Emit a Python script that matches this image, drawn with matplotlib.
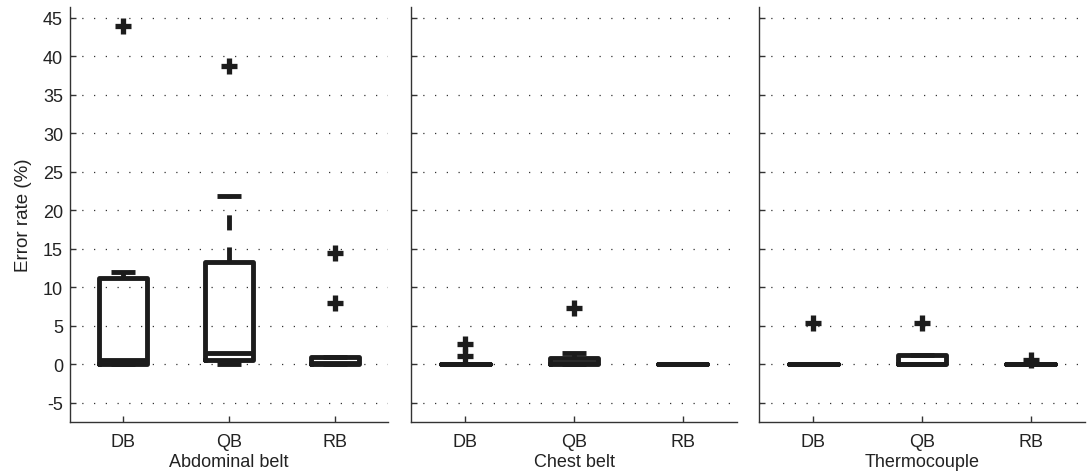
import matplotlib
matplotlib.use('Agg')
import matplotlib.pyplot as plt

sensors = ['Abdominal belt', 'Chest belt', 'Thermocouple']
methods = ['DB', 'QB', 'RB']

# statistics per sensor (rows) and method (columns), error rate in %
q1 = [[0.0, 0.6, 0.0], [0.0, 0.0, 0.0], [0.0, 0.0, 0.0]]
med = [[0.6, 1.5, 0.1], [0.0, 0.1, 0.0], [0.0, 0.0, 0.0]]
q3 = [[11.2, 13.3, 1.0], [0.0, 0.75, 0.0], [0.0, 1.25, 0.0]]
whislo = [[0.0, 0.0, 0.0], [0.0, 0.0, 0.0], [0.0, 0.0, 0.0]]
whishi = [[12.0, 21.9, 1.0], [0.0, 1.5, 0.0], [0.0, 1.25, 0.0]]
fliers = [[[43.9], [38.8], [14.5, 8.0]],
          [[2.6, 1.1], [7.3], []],
          [[5.3], [5.4], [0.5]]]

yticks = [-5, 0, 5, 10, 15, 20, 25, 30, 35, 40, 45]

plt.rcParams['font.family'] = ['Liberation Sans', 'DejaVu Sans']
plt.rcParams['font.size'] = 13
plt.rcParams['axes.unicode_minus'] = False

W, H = 1087, 477
fig = plt.figure(figsize=(W / 100, H / 100), dpi=100)
ax_px = [(70, 318), (411, 326), (759, 326)]
bottom_px, top_px = 423, 8

col = '#1c1c1c'
txt = '#222222'
lw = 3.5

for i, sensor in enumerate(sensors):
    l, w = ax_px[i]
    ax = fig.add_axes([l / W, (H - bottom_px) / H, w / W, (bottom_px - top_px) / H])
    stats = []
    for j, m in enumerate(methods):
        stats.append(dict(q1=q1[i][j], med=med[i][j], q3=q3[i][j],
                          whislo=whislo[i][j], whishi=whishi[i][j],
                          fliers=fliers[i][j], label=m))
    ax.bxp(stats, positions=[1, 2, 3], widths=0.45, capwidths=0.22,
           showfliers=True,
           boxprops=dict(color=col, linewidth=lw, solid_joinstyle='round', solid_capstyle='round'),
           medianprops=dict(color=col, linewidth=lw, solid_capstyle='butt'),
           whiskerprops=dict(color=col, linewidth=lw, linestyle=(0, (3.1, 3.5)), dash_capstyle='butt'),
           capprops=dict(color=col, linewidth=lw, solid_capstyle='butt'),
           flierprops=dict(marker='+', markersize=12, markeredgewidth=3.8,
                           markeredgecolor=col, linestyle='none'))
    ax.set_xlim(0.5, 3.5)
    ax.set_ylim(-7.5, 46.4)
    ax.set_yticks(yticks)
    ax.set_xticks([1, 2, 3])
    ax.set_xticklabels(methods)
    ax.yaxis.grid(True, color='#333333', linewidth=0.9, linestyle=(0, (1, 8.4)))
    ax.xaxis.grid(False)
    ax.set_axisbelow(True)
    for s in ['top', 'right']:
        ax.spines[s].set_visible(False)
    for s in ['left', 'bottom']:
        ax.spines[s].set_color('#333333')
        ax.spines[s].set_linewidth(1.0)
    ax.tick_params(direction='in', length=4, width=1.0, colors='#333333',
                   labelcolor=txt, labelsize=13)
    ax.tick_params(axis='x', pad=8)
    ax.tick_params(axis='y', pad=5)
    ax.set_xlabel(sensor, color=txt, fontsize=13, labelpad=2)
    if i == 0:
        ax.set_ylabel('Error rate (%)', color=txt, fontsize=13.5, labelpad=8)
    else:
        ax.tick_params(axis='y', labelleft=False)

fig.savefig('out.png', dpi=100)
